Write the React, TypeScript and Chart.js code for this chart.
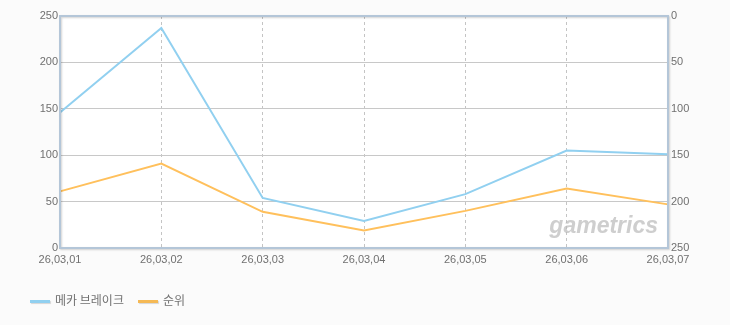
import React, { useEffect, useRef } from "react";
import { Chart, registerables } from "chart.js";

Chart.register(...registerables);

const categories = ["26,03,01", "26,03,02", "26,03,03", "26,03,04", "26,03,05", "26,03,06", "26,03,07"];
const seriesNames = ["메카 브레이크", "순위"];
const playerValues = [146, 237, 54, 29, 58, 105, 101];
const rankValues = [189, 159, 211, 231, 210, 186, 203];
const leftTicks = [0, 50, 100, 150, 200, 250];
const rightTicks = [0, 50, 100, 150, 200, 250];

const BLUE = "rgb(145,208,240)";
const ORANGE = "rgb(255,192,92)";
const TICK_FONT = { family: "'Liberation Sans', Arial, sans-serif", size: 11 };

const framePlugin = {
  id: "frame",
  beforeDraw(chart: any) {
    const { ctx, chartArea: a } = chart;
    ctx.save();
    ctx.fillStyle = "#ffffff";
    ctx.fillRect(a.left, a.top, a.right - a.left, a.bottom - a.top);
    ctx.restore();
  },
  beforeDatasetsDraw(chart: any) {
    const { ctx, chartArea: a } = chart;
    ctx.save();
    ctx.font = "italic bold 23px 'Liberation Sans', Arial, sans-serif";
    ctx.fillStyle = "rgba(185,185,185,0.7)";
    ctx.textAlign = "right";
    ctx.textBaseline = "alphabetic";
    ctx.fillText("gametrics", a.right - 10, a.bottom - 15);
    ctx.restore();
  },
  afterDraw(chart: any) {
    const { ctx, chartArea: a } = chart;
    ctx.save();
    ctx.shadowColor = "rgba(0,0,0,0.18)";
    ctx.shadowBlur = 2;
    ctx.shadowOffsetX = 1;
    ctx.shadowOffsetY = 1;
    ctx.strokeStyle = "#b4c6d8";
    ctx.lineWidth = 2;
    ctx.strokeRect(a.left, a.top, a.right - a.left, a.bottom - a.top);
    ctx.restore();
  },
};

export default function App() {
  const ref = useRef<HTMLCanvasElement | null>(null);

  useEffect(() => {
    if (!ref.current) return;
    const chart = new Chart(ref.current, {
      type: "line",
      data: {
        labels: categories,
        datasets: [
          {
            label: seriesNames[0],
            data: playerValues,
            borderColor: BLUE,
            backgroundColor: BLUE,
            borderWidth: 2,
            pointRadius: 0,
            tension: 0,
            yAxisID: "y",
          },
          {
            label: seriesNames[1],
            data: rankValues,
            borderColor: ORANGE,
            backgroundColor: ORANGE,
            borderWidth: 2,
            pointRadius: 0,
            tension: 0,
            yAxisID: "y1",
          },
        ],
      },
      options: {
        responsive: false,
        animation: false,
        layout: { padding: { top: 16, bottom: 57, left: 0, right: 0 } },
        plugins: { legend: { display: false }, tooltip: { enabled: false } },
        scales: {
          x: {
            type: "category",
            offset: false,
            grid: { color: "#c4c4c4", drawTicks: false, lineWidth: 1 },
            border: { display: false, dash: [3, 3] },
            ticks: { color: "#707070", font: TICK_FONT, padding: 5, maxRotation: 0, autoSkip: false },
            afterFit(scale: any) {
              scale.height = 20;
            },
          },
          y: {
            position: "left",
            min: 0,
            max: 250,
            afterBuildTicks(scale: any) {
              scale.ticks = leftTicks.map((v) => ({ value: v }));
            },
            grid: { color: "#c8c8c8", drawTicks: false, lineWidth: 1 },
            border: { display: false },
            ticks: { color: "#707070", font: TICK_FONT, padding: 2 },
            afterFit(scale: any) {
              scale.width = 60;
            },
          },
          y1: {
            position: "right",
            min: 0,
            max: 250,
            reverse: true,
            afterBuildTicks(scale: any) {
              scale.ticks = rightTicks.map((v) => ({ value: v }));
            },
            grid: { display: false, drawTicks: false },
            border: { display: false },
            ticks: { color: "#707070", font: TICK_FONT, padding: 3 },
            afterFit(scale: any) {
              scale.width = 62;
            },
          },
        },
      },
      plugins: [framePlugin],
    });
    return () => chart.destroy();
  }, []);

  const legendText: React.CSSProperties = {
    position: "absolute",
    top: 292,
    fontFamily: "'Noto Sans CJK KR', 'Noto Sans', sans-serif",
    fontSize: 12,
    lineHeight: "16px",
    color: "#707070",
    whiteSpace: "nowrap",
  };
  const swatch = (left: number, color: string): React.CSSProperties => ({
    position: "absolute",
    left,
    top: 300,
    width: 20,
    height: 3,
    background: color,
    boxShadow: "1px 1px 1px rgba(0,0,0,0.15)",
  });

  return (
    <div style={{ position: "fixed", left: 0, top: 0, width: 730, height: 325, background: "#fbfbfb" }}>
      <canvas ref={ref} width={730} height={325} style={{ display: "block" }} />
      <div style={swatch(30, BLUE)} />
      <div style={{ ...legendText, left: 55 }}>{seriesNames[0]}</div>
      <div style={swatch(138, "rgb(245,185,85)")} />
      <div style={{ ...legendText, left: 163 }}>{seriesNames[1]}</div>
    </div>
  );
}
